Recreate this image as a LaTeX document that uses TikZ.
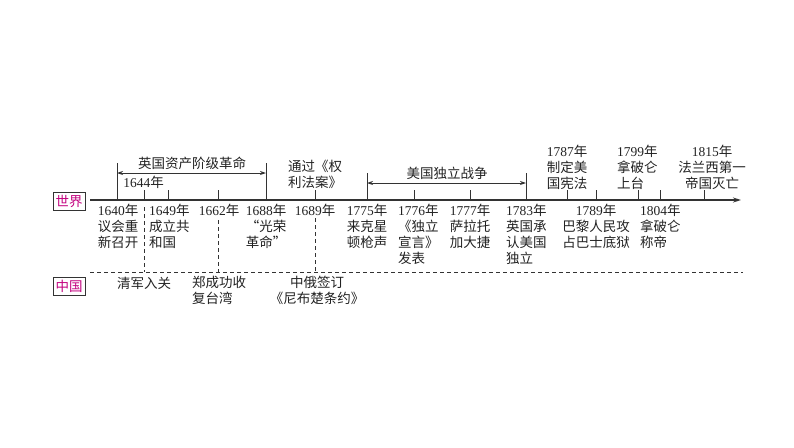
\documentclass[tikz,border=0pt]{standalone}
\usepackage{fontspec}
\setmainfont{Liberation Serif}
\newfontfamily\cjk{Noto Sans CJK SC}
\newfontfamily\lat{Liberation Serif}
\usetikzlibrary{arrows.meta}
\newcommand{\yr}[1]{{\lat #1}年}
\definecolor{txt}{HTML}{222222}
\definecolor{ln}{HTML}{333333}
\definecolor{mag}{HTML}{C2007E}
\tikzset{
  lbl/.style={font=\cjk\fontsize{13.5}{16}\selectfont, inner sep=0pt, text=txt},
  axisline/.style={draw=ln, line width=1.3pt},
  tick/.style={draw=ln, line width=1pt},
  span/.style={draw=ln, line width=0.9pt, {Stealth[length=6pt,width=4pt]}-{Stealth[length=6pt,width=4pt]}},
  dsh/.style={draw=ln, line width=0.9pt, dash pattern=on 4pt off 3pt},
  region/.style={draw=ln, line width=0.8pt, text=mag, font=\cjk\fontsize{13.5}{16}\selectfont, minimum width=32pt, minimum height=18pt, inner sep=0pt}
}
\begin{document}
\begin{tikzpicture}[x=1pt,y=-1pt]
\useasboundingbox (0,0) rectangle (794,447);
% axis
\coordinate (a0) at (90,200);
\coordinate (a1) at (741,200);
\draw[axisline, -{Stealth[length=8pt,width=5pt]}] (a0) -- (a1);
% ticks on axis
\foreach \n/\x in {1644/144,1649/168,1662/218,1689/315,1776/414,1777/470,1787/567,1789/596,1799/638,1804/660,1815/704}{
  \coordinate (t\n) at (\x,200);
  \coordinate (u\n) at (\x,190);
  \draw[tick] (u\n) -- (t\n);
}
% tall bracket lines
\coordinate (t1640) at (117,200); \coordinate (u1640) at (117,163);
\coordinate (t1688) at (266,200); \coordinate (u1688) at (266,163);
\coordinate (t1775) at (367,200); \coordinate (u1775) at (367,173);
\coordinate (t1783) at (526,200); \coordinate (u1783) at (526,173);
\draw[tick] (u1640) -- (t1640);
\draw[tick] (u1688) -- (t1688);
\draw[tick] (u1775) -- (t1775);
\draw[tick] (u1783) -- (t1783);
% span arrows
\coordinate (s1a) at (117,173); \coordinate (s1b) at (266,173);
\coordinate (s2a) at (367,183); \coordinate (s2b) at (526,183);
\draw[span] (s1a) -- (s1b);
\draw[span] (s2a) -- (s2b);
\node[lbl] (eng) at (192,163) {英国资产阶级革命};
\node[lbl] (usa) at (447,173) {美国独立战争};
% china line
\coordinate (c0) at (90,272);
\coordinate (c1) at (743,272);
\draw[dsh] (c0) -- (c1);
\coordinate (e1644) at (144,207);
\coordinate (e1662) at (218,220);
\coordinate (e1689) at (315,218);
\coordinate (d1644) at (144,272);
\coordinate (d1662) at (218,272);
\coordinate (d1689) at (315,272);
\draw[dsh] (e1644) -- (d1644);
\draw[dsh] (e1662) -- (d1662);
\draw[dsh] (e1689) -- (d1689);
% region boxes
\node[region] (world) at (69,201) {世界};
\node[region] (china) at (69,286) {中国};
% labels above axis
\node[lbl] (l1644) at (143.5,182) {\yr{1644}};
\node[lbl, anchor=north west, align=left] (l1689a) at (288,160) {通过《权\\利法案》};
\node[lbl, anchor=north, align=center] (l1787) at (567,145) {\yr{1787}\\制定美\\国宪法};
\node[lbl, anchor=north west, align=left] (l1799) at (617,145) {\yr{1799}\\拿破仑\\上台};
\node[lbl, anchor=north, align=center] (l1815) at (712,145) {\yr{1815}\\法兰西第一\\帝国灭亡};
% labels below axis
\node[lbl, anchor=north, align=center] (l1640) at (118,204) {\yr{1640}\\议会重\\新召开};
\node[lbl, anchor=north west, align=left] (l1649) at (149,204) {\yr{1649}\\成立共\\和国};
\node[lbl, anchor=north] (l1662) at (219,204) {\yr{1662}};
\node[lbl, anchor=north, align=center] (l1688) at (266,204) {\yr{1688}\\“光荣\\革命”};
\node[lbl, anchor=north] (l1689) at (315,204) {\yr{1689}};
\node[lbl, anchor=north, align=center] (l1775) at (367,204) {\yr{1775}\\来克星\\顿枪声};
\node[lbl, anchor=north west, align=left] (l1776) at (398,204) {\yr{1776}\\《独立\\宣言》\\发表};
\node[lbl, anchor=north, align=center] (l1777) at (470,204) {\yr{1777}\\萨拉托\\加大捷};
\node[lbl, anchor=north west, align=left] (l1783) at (506,204) {\yr{1783}\\英国承\\认美国\\独立};
\node[lbl, anchor=north, align=center] (l1789) at (596,204) {\yr{1789}\\巴黎人民攻\\占巴士底狱};
\node[lbl, anchor=north west, align=left] (l1804) at (640,204) {\yr{1804}\\拿破仑\\称帝};
% china labels
\node[lbl] (c1644) at (144,283) {清军入关};
\node[lbl, anchor=north west, align=left] (c1662) at (192,276) {郑成功收\\复台湾};
\node[lbl, anchor=north, align=center] (c1689) at (317,276) {中俄签订\\《尼布楚条约》};
\end{tikzpicture}
\end{document}
